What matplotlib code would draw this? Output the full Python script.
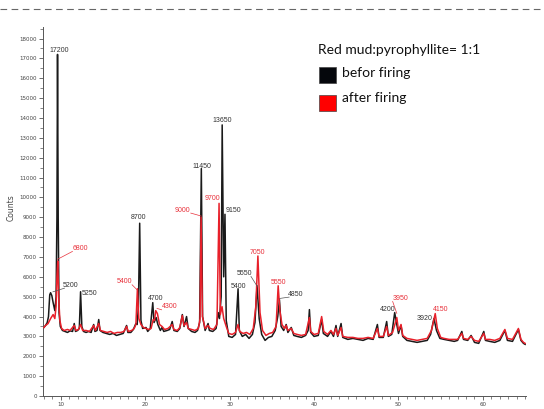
import matplotlib
matplotlib.use("Agg")
import matplotlib.pyplot as plt
from matplotlib.patches import Rectangle
from matplotlib.lines import Line2D

# ---------------- data ----------------
before_2theta = [8.0, 8.2, 8.4, 8.55, 8.7, 8.8, 8.95, 9.1, 9.3, 9.45, 9.55, 9.62, 9.7, 9.8, 9.95,
                 10.2, 10.5, 10.8, 11.1, 11.4, 11.6, 11.75, 12.0, 12.2, 12.35, 12.5, 12.7, 13.0, 13.3,
                 13.6, 13.9, 14.05, 14.3, 14.5, 14.65, 15.0, 15.4, 15.8, 16.2, 16.6, 17.0, 17.4, 17.8,
                 17.95, 18.3, 18.6, 18.9, 19.05, 19.2, 19.35, 19.5, 19.7, 20.1, 20.3, 20.6, 20.9, 21.05,
                 21.3, 21.5, 21.8, 22.0, 22.2, 22.6, 22.9, 23.2, 23.4, 23.8, 24.1, 24.4, 24.6, 24.9,
                 25.1, 25.5, 25.9, 26.2, 26.45, 26.65, 26.8, 27.1, 27.45, 27.6, 28.0, 28.4, 28.65, 28.8,
                 29.0, 29.12, 29.3, 29.45, 29.6, 29.9, 30.3, 30.7, 31.0, 31.15, 31.5, 31.9, 32.3, 32.7,
                 33.0, 33.25, 33.5, 33.8, 34.2, 34.6, 35.0, 35.4, 35.7, 35.9, 36.1, 36.4, 36.7, 36.9,
                 37.3, 37.6, 38.0, 38.5, 39.0, 39.3, 39.45, 39.6, 40.0, 40.5, 40.9, 41.1, 41.6, 42.0,
                 42.3, 42.6, 42.8, 43.2, 43.4, 44.0, 44.6, 45.2, 45.8, 46.4, 47.0, 47.5, 47.7, 48.2,
                 48.6, 48.8, 49.2, 49.55, 49.75, 50.0, 50.3, 50.5, 51.0, 51.6, 52.2, 52.8, 53.4, 53.8,
                 54.2, 54.5, 54.9, 55.4, 56.0, 56.6, 57.0, 57.5, 57.7, 58.2, 58.6, 59.0, 59.5, 60.1,
                 60.3, 60.8, 61.4, 62.0, 62.6, 62.9, 63.5, 64.2, 64.5, 64.8, 65.0]
before_counts = [3450, 3550, 3700, 4000, 5100, 5200, 5050, 4700, 4300, 5000, 9000, 17200, 9000, 4200, 3500,
                 3300, 3250, 3200, 3280, 3250, 3650, 3250, 3300, 3400, 5250, 3500, 3250, 3200, 3250,
                 3200, 3600, 3250, 3300, 3850, 3300, 3200, 3150, 3100, 3150, 3050, 3100, 3150, 3550,
                 3200, 3200, 3350, 3650, 3600, 4500, 8700, 3800, 3400, 3450, 3250, 3400, 4700, 3700,
                 3950, 3600, 3300, 3450, 3250, 3300, 3350, 3750, 3300, 3250, 3400, 4100, 3500, 4000,
                 3400, 3250, 3200, 3300, 3700, 11450, 4000, 3300, 3650, 3300, 3250, 3400, 4200, 3900,
                 5000, 13650, 6000, 9150, 3800, 3000, 2950, 3100, 5400, 3300, 3000, 3100, 2900, 3100,
                 3700, 5550, 3900, 3100, 2800, 2950, 3000, 3300, 4000, 4850, 3500, 3300, 3600, 3200,
                 3450, 3050, 3000, 2950, 3050, 3300, 4350, 3200, 3000, 3050, 3850, 3150, 3000, 3250,
                 3000, 3550, 3000, 3650, 2950, 2850, 2900, 2850, 2800, 2900, 2850, 3600, 2950, 2950,
                 3750, 3000, 3100, 4200, 3700, 3150, 3550, 3000, 2800, 2750, 2700, 2750, 2800, 3100,
                 3900, 3300, 2900, 2850, 2800, 2750, 2800, 3250, 2850, 2800, 3050, 2700, 2650, 3250,
                 2800, 2750, 2700, 2800, 3300, 2800, 2750, 3350, 2800, 2650, 2600]

after_2theta = [8.0, 8.2, 8.5, 8.8, 9.1, 9.3, 9.45, 9.55, 9.65, 9.75, 9.9, 10.1, 10.4, 10.8, 11.1,
                11.6, 11.8, 12.1, 12.35, 12.6, 13.0, 13.4, 13.9, 14.1, 14.5, 14.7, 15.1, 15.5, 15.9,
                16.3, 16.7, 17.1, 17.5, 17.8, 18.0, 18.4, 18.7, 18.9, 19.08, 19.25, 19.5, 19.8, 20.1,
                20.4, 20.7, 20.95, 21.1, 21.25, 21.45, 21.7, 22.0, 22.3, 22.7, 23.2, 23.4, 23.8, 24.1,
                24.4, 24.6, 24.9, 25.1, 25.5, 25.9, 26.3, 26.5, 26.62, 26.78, 27.1, 27.45, 27.7, 28.1,
                28.5, 28.75, 28.9, 29.1, 29.3, 29.6, 29.9, 30.3, 30.7, 31.0, 31.2, 31.6, 32.0, 32.4,
                32.8, 33.1, 33.35, 33.6, 33.9, 34.3, 34.7, 35.1, 35.5, 35.75, 35.95, 36.2, 36.5, 36.7,
                36.9, 37.3, 37.6, 38.0, 38.5, 39.0, 39.45, 39.6, 40.0, 40.5, 40.9, 41.15, 41.6, 42.0,
                42.3, 42.6, 42.8, 43.2, 43.4, 44.0, 44.6, 45.2, 45.8, 46.4, 47.0, 47.5, 47.7, 48.2,
                48.6, 48.8, 49.3, 49.8, 50.0, 50.3, 50.5, 51.0, 51.6, 52.2, 52.8, 53.4, 53.9, 54.35,
                54.6, 55.0, 55.4, 56.0, 56.6, 57.0, 57.5, 57.7, 58.2, 58.6, 59.0, 59.5, 60.1, 60.3,
                60.8, 61.4, 62.0, 62.6, 62.9, 63.5, 64.2, 64.5, 64.8, 65.0]
after_counts = [3450, 3550, 3650, 3900, 4100, 3900, 4500, 6000, 6800, 5000, 3800, 3400, 3300, 3350, 3300,
                3550, 3300, 3350, 3600, 3300, 3300, 3250, 3550, 3300, 3650, 3300, 3250, 3200, 3250,
                3150, 3200, 3200, 3250, 3500, 3250, 3300, 3400, 3600, 5400, 3900, 3600, 3450, 3400,
                3350, 3400, 3850, 3800, 4300, 4150, 3600, 3500, 3350, 3400, 3600, 3350, 3300, 3450,
                4050, 3550, 3700, 3400, 3350, 3300, 3400, 3900, 9000, 4000, 3400, 3550, 3400, 3350,
                3600, 9700, 4100, 4500, 3900, 3500, 3150, 3100, 3200, 3600, 3250, 3150, 3200, 3100,
                3400, 4500, 7050, 4200, 3300, 3050, 3150, 3200, 3500, 5550, 4300, 3600, 3400, 3550,
                3300, 3400, 3150, 3100, 3050, 3100, 3950, 3250, 3100, 3150, 4000, 3250, 3100, 3300,
                3100, 3400, 3050, 3450, 3000, 2950, 2950, 2900, 2900, 2950, 2900, 3400, 3000, 3000,
                3500, 3050, 3200, 3950, 3300, 3600, 3050, 2900, 2850, 2800, 2850, 2900, 3300, 4150,
                3400, 2950, 2900, 2850, 2850, 2850, 3150, 2900, 2850, 3000, 2800, 2750, 3150, 2850,
                2850, 2800, 2900, 3350, 2900, 2850, 3400, 2850, 2700, 2650]

# peak annotations: text, text position (2theta, counts), leader target or None
before_labels = ["17200", "5200", "5250", "8700", "4700", "11450", "13650", "9150", "5400", "5550", "4850", "4200", "3920"]
before_text_x = [9.85, 11.2, 13.45, 19.24, 21.2, 26.73, 29.15, 30.4, 31.0, 31.78, 37.8, 48.67, 53.07]
before_text_y = [17420, 5580, 5160, 8990, 4910, 11580, 13890, 9330, 5500, 6170, 5130, 4360, 3900]
before_lead_x = [None, 9.07, None, None, None, None, None, None, None, 33.3, 35.9, None, None]
before_lead_y = [None, 5245, None, None, None, None, None, None, None, 5500, 4910, None, None]

after_labels = ["6800", "5400", "4300", "9000", "9700", "7050", "5550", "3950", "4150"]
after_text_x = [12.34, 17.5, 22.9, 24.45, 27.95, 33.33, 35.8, 50.26, 55.0]
after_text_y = [7430, 5750, 4490, 9360, 9950, 7230, 5720, 4910, 4360]
after_lead_x = [9.6, 19.08, 21.4, 26.65, None, None, None, 49.8, None]
after_lead_y = [6880, 5330, 4410, 9060, None, None, None, 4160, None]

legend_title = "Red mud:pyrophyllite= 1:1"
legend_names = ["befor firing", "after firing"]
legend_colors = ["#05070c", "#ff0000"]

BLACK = "#1a1a1a"
RED = "#e8202a"

# ---------------- figure ----------------
W, H = 544, 409
fig = plt.figure(figsize=(W / 100, H / 100), dpi=100)
ax = fig.add_axes([43 / W, 1 - 396 / H, (526 - 43) / W, (396 - 27) / H])

ax.plot(before_2theta, before_counts, color=BLACK, lw=1.1, zorder=2)
ax.plot(after_2theta, after_counts, color=RED, lw=1.1, zorder=3)

ax.set_xlim(7.9, 65.1)
ax.set_ylim(0, 18580)
ax.set_xticks(range(10, 61, 10))
ax.set_xticks(range(8, 66), minor=True)
ax.set_yticks(range(0, 18001, 1000))
ax.set_yticks(range(500, 18600, 1000), minor=True)
ax.tick_params(axis="both", which="major", labelsize=4, length=3, width=0.6,
               colors="#555555", labelcolor="#444444", pad=1.5)
ax.tick_params(axis="both", which="minor", length=2, width=0.5, colors="#555555")
for s in ["top", "right"]:
    ax.spines[s].set_visible(False)
for s in ["left", "bottom"]:
    ax.spines[s].set_color("#555555")
    ax.spines[s].set_linewidth(0.7)
ax.set_ylabel("Counts", fontsize=5.5, color="#444444")
ax.yaxis.set_label_coords(-0.056, 0.51)

lab_font = dict(fontsize=5, family="Liberation Sans")
for t, tx, ty, lx, ly in zip(before_labels, before_text_x, before_text_y, before_lead_x, before_lead_y):
    ax.text(tx, ty, t, color="#333333", ha="center", va="center", zorder=5, **lab_font)
    if lx is not None:
        ax.add_line(Line2D([tx - 0.75 if tx > lx else tx + 0.75, lx], [ty - 150, ly],
                           color="#555555", lw=0.5, zorder=4))
for t, tx, ty, lx, ly in zip(after_labels, after_text_x, after_text_y, after_lead_x, after_lead_y):
    ax.text(tx, ty, t, color="#e8303a", ha="center", va="center", zorder=5, **lab_font)
    if lx is not None:
        ax.add_line(Line2D([tx - 0.95 if tx > lx else tx + 0.95, lx], [ty - 150, ly],
                           color="#e8303a", lw=0.5, zorder=4))

# dashed frame line at the top
fig.add_artist(Line2D([0, 1], [1 - 9 / H, 1 - 9 / H], color="#666666", lw=0.8,
                      ls=(0, (6, 4))))

# legend block drawn in figure pixels
fig.text(318 / W, 1 - 50 / H, legend_title, fontsize=10, family="Lato", color="#111111",
         ha="left", va="center")
sq_y = [67, 95]
txt_y = [73, 98]
for name, c, sy, ty in zip(legend_names, legend_colors, sq_y, txt_y):
    fig.add_artist(Rectangle((319 / W, 1 - (sy + 16) / H), 17 / W, 16 / H,
                             facecolor=c, edgecolor="#444444", lw=0.5))
    fig.text(342 / W, 1 - ty / H, name, fontsize=10, family="Lato", color="#111111",
             ha="left", va="center")

fig.savefig("out.png", dpi=100)
